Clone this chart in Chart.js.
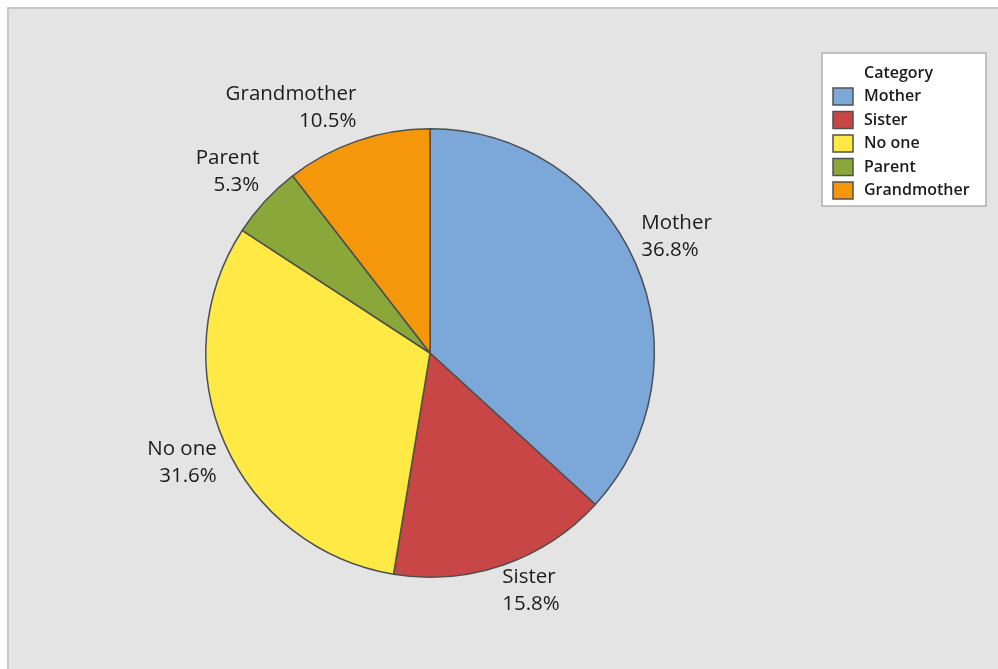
<!DOCTYPE html>
<html>
<head>
<meta charset="utf-8">
<script src="https://cdn.jsdelivr.net/npm/chart.js@4.4.1/dist/chart.umd.min.js"></script>
<style>
  html, body { margin: 0; padding: 0; background: #ffffff; }
  #wrap { width: 998px; height: 669px; position: relative; }
</style>
</head>
<body>
<div id="wrap"><canvas id="pie" width="998" height="669"></canvas></div>
<script>
// Who the respondents turn to, share of answers in percent
const categories = ['Mother', 'Sister', 'No one', 'Parent', 'Grandmother'];
const percents = [36.8, 15.8, 31.6, 5.3, 10.5];
const sliceColors = ['#7ba7d9', '#c84646', '#ffe944', '#8aa83a', '#f5970a'];
const legendTitle = 'Category';

const FONT = '"Open Sans", "Noto Sans", "DejaVu Sans", sans-serif';
const TEXT = '#1c1c1c';

// Grey panel with a thin frame on the top and left edges
const panelBackground = {
  id: 'panelBackground',
  beforeDraw(chart) {
    const ctx = chart.ctx;
    ctx.save();
    ctx.fillStyle = '#ffffff';
    ctx.fillRect(0, 0, chart.width, chart.height);
    ctx.fillStyle = '#e4e4e4';
    ctx.fillRect(7, 7, chart.width - 7, chart.height - 7);
    ctx.strokeStyle = '#c6c6c6';
    ctx.lineWidth = 2;
    ctx.beginPath();
    ctx.moveTo(8, chart.height);
    ctx.lineTo(8, 8);
    ctx.lineTo(chart.width, 8);
    ctx.stroke();
    ctx.restore();
  }
};

// Category name and percentage placed just outside each slice
const sliceLabels = {
  id: 'sliceLabels',
  afterDatasetsDraw(chart) {
    const ctx = chart.ctx;
    const meta = chart.getDatasetMeta(0);
    const values = chart.data.datasets[0].data;
    ctx.save();
    ctx.font = '20.5px ' + FONT;
    ctx.fillStyle = TEXT;
    ctx.textBaseline = 'alphabetic';
    meta.data.forEach((arc, i) => {
      const p = arc.getProps(['x', 'y', 'startAngle', 'endAngle', 'outerRadius'], true);
      const mid = (p.startAngle + p.endAngle) / 2;
      const rr = p.outerRadius + 12;
      const px = p.x + Math.cos(mid) * rr;
      const py = p.y + Math.sin(mid) * rr;
      const right = Math.cos(mid) > 0;
      const upper = Math.sin(mid) < 0;
      const line1 = chart.data.labels[i];
      const line2 = values[i].toFixed(1) + '%';
      ctx.textAlign = right ? 'left' : 'right';
      const tx = right ? px - 5 : px + 3;
      let b1, b2;
      if (upper) { b2 = py - 2; b1 = b2 - 27; }
      else { b1 = py + 7; b2 = b1 + 27; }
      ctx.fillText(line1, tx, b1);
      ctx.fillText(line2, tx, b2);
    });
    ctx.restore();
  }
};

// Boxed legend in the top right corner
const boxLegend = {
  id: 'boxLegend',
  afterDraw(chart) {
    const ctx = chart.ctx;
    const colors = chart.data.datasets[0].backgroundColor;
    const x0 = 822, y0 = 53, w = 164, h = 153;
    ctx.save();
    ctx.fillStyle = '#ffffff';
    ctx.fillRect(x0, y0, w, h);
    ctx.strokeStyle = '#b0b0b0';
    ctx.lineWidth = 1.5;
    ctx.strokeRect(x0, y0, w, h);
    ctx.fillStyle = TEXT;
    ctx.font = '600 16px ' + FONT;
    ctx.textAlign = 'left';
    ctx.textBaseline = 'middle';
    ctx.fillText(legendTitle, 864, 73);
    chart.data.labels.forEach((lab, i) => {
      const yc = 96.5 + i * 23.5;
      ctx.fillStyle = colors[i];
      ctx.fillRect(833, yc - 8.5, 20, 17);
      ctx.strokeStyle = '#505050';
      ctx.lineWidth = 1.5;
      ctx.strokeRect(833, yc - 8.5, 20, 17);
      ctx.fillStyle = TEXT;
      ctx.fillText(lab, 864, yc);
    });
    ctx.restore();
  }
};

new Chart(document.getElementById('pie'), {
  type: 'pie',
  data: {
    labels: categories,
    datasets: [{
      data: percents,
      backgroundColor: sliceColors,
      borderColor: '#4f4f4f',
      borderWidth: 1.5
    }]
  },
  options: {
    responsive: false,
    animation: false,
    layout: { padding: { left: 205, right: 343, top: 128, bottom: 91 } },
    plugins: {
      legend: { display: false },
      tooltip: { enabled: false }
    }
  },
  plugins: [panelBackground, sliceLabels, boxLegend]
});
</script>
</body>
</html>
